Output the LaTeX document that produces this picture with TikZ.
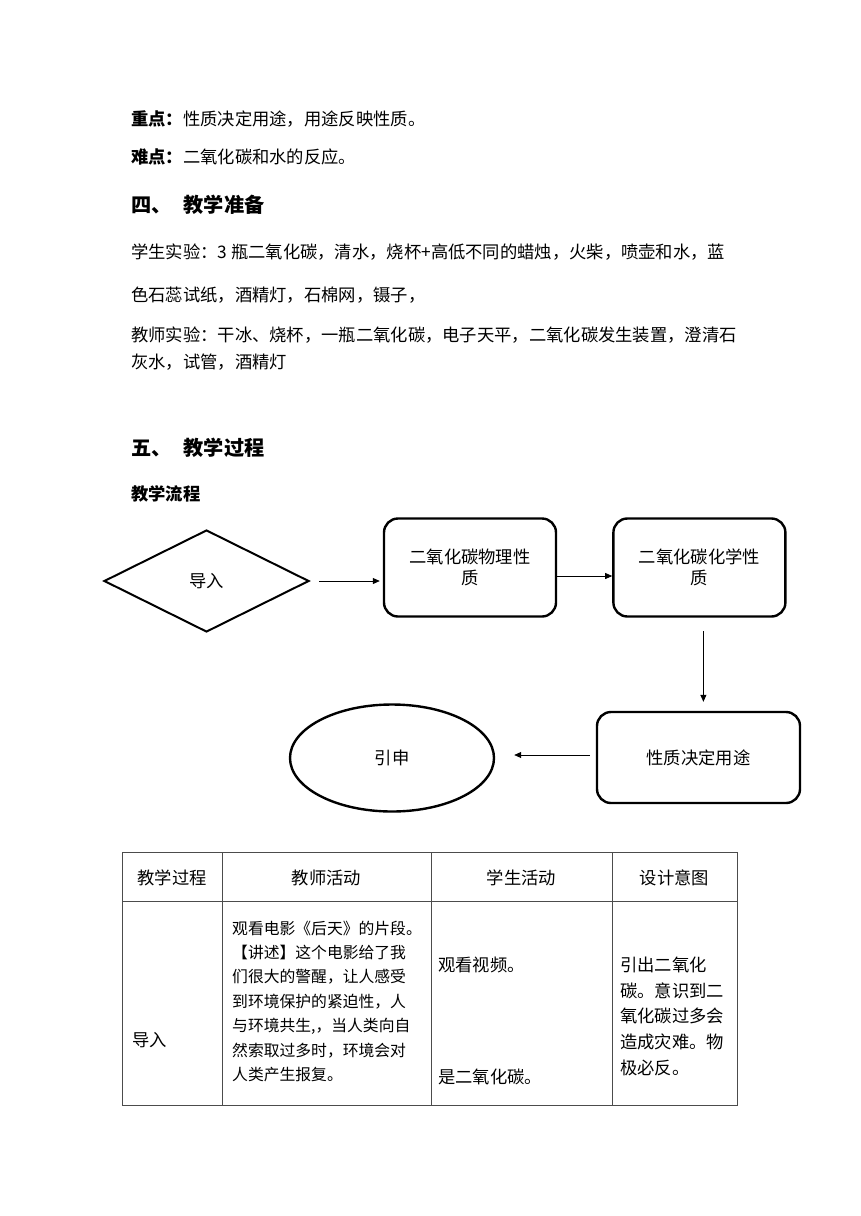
\documentclass[tikz,border=0pt]{standalone}
\usepackage{fontspec}
\setmainfont{Noto Sans CJK SC}
\usetikzlibrary{arrows.meta,positioning,shapes.geometric}

\begin{document}
\begin{tikzpicture}[
  x=1pt,
  y=-1pt,
  body/.style={font=\fontsize{17.3}{21}\selectfont, anchor=west, inner sep=0pt},
  heading/.style={font=\fontsize{20.2}{24}\selectfont\bfseries, anchor=west, inner sep=0pt},
  cell/.style={font=\fontsize{17.3}{21}\selectfont, inner sep=0pt},
  smallcell/.style={font=\fontsize{15.8}{19}\selectfont, anchor=west, inner sep=0pt},
  flowtext/.style={font=\fontsize{17.3}{21}\selectfont, align=center},
  flowbox/.style={flowtext, draw, line width=2.4pt, rounded corners=14pt, minimum width=172pt, minimum height=98pt},
  flowarrow/.style={draw, line width=0.8pt, -{Triangle[length=7pt,width=6pt]}},
  grid/.style={draw=black!70, line width=1pt}
]
\useasboundingbox (0,0) rectangle (860,1216);
\node[body] (keypt) at (131,119) {\textbf{重点：}性质决定用途，用途反映性质。};
\node[body] (hardpt) at (131,157) {\textbf{难点：}二氧化碳和水的反应。};
\node[heading] (sec4) at (131,205) {四、\hspace{12pt}教学准备};
\node[body] (stuexpa) at (131,252) {学生实验：3 瓶二氧化碳，清水，烧杯+高低不同的蜡烛，火柴，喷壶和水，蓝};
\node[body] (stuexpb) at (131,295) {色石蕊试纸，酒精灯，石棉网，镊子，};
\node[body] (teaexpa) at (131,335) {教师实验：干冰、烧杯，一瓶二氧化碳，电子天平，二氧化碳发生装置，澄清石};
\node[body] (teaexpb) at (131,362) {灰水，试管，酒精灯};
\node[heading] (sec5) at (131,448) {五、\hspace{12pt}教学过程};
\node[body, font=\fontsize{17.3}{21}\selectfont\bfseries] (flowtitle) at (131,494) {教学流程};

\node[flowtext, draw, shape=diamond, line width=2pt, minimum width=205pt, minimum height=102pt, inner sep=0pt] (intro) at (206.5,581) {导入};
\node[flowbox] (phys) at (470,567.5) {二氧化碳物理性\\质};
\node[flowbox, right=55pt of phys] (chem) {二氧化碳化学性\\质};
\node[flowbox, minimum width=203pt, minimum height=91pt] (use) at (698.5,757.5) {性质决定用途};
\node[flowtext, draw, shape=ellipse, line width=2.4pt, minimum width=204pt, minimum height=107pt] (lead) at (392,758) {引申};
\draw[flowarrow, shorten <=9pt, shorten >=3pt] (intro.east) -- (intro.east -| phys.west);
\draw[flowarrow] ([yshift=-8.5pt]phys.east) -- ([yshift=-8.5pt]chem.west);
\draw[flowarrow, shorten <=13.5pt, shorten >=9pt] ([xshift=4pt]chem.south) -- ([xshift=4pt]chem.south |- use.north);
\draw[flowarrow, shorten <=6pt, shorten >=19pt] ([yshift=2.5pt]use.west) -- ([yshift=2.5pt]use.west -| lead.east);

\draw[grid] (122,852) rectangle (737,1105);
\draw[grid] (122,901) -- (737,901);
\foreach \x in {222,431,612} {
  \draw[grid] (\x,852) -- (\x,1105);
}
\foreach \x/\lab/\nm in {172/教学过程/hstep, 326.5/教师活动/hteacher, 521.5/学生活动/hstudent, 674.5/设计意图/hintent} {
  \node[cell] (\nm) at (\x,878) {\lab};
}
\node[cell, anchor=west] (rowintro) at (132,1040) {导入};
\foreach \t [count=\i from 0] in {观看电影《后天》的片段。, 【讲述】这个电影给了我, 们很大的警醒，让人感受, 到环境保护的紧迫性，人, {与环境共生,，当人类向自}, 然索取过多时，环境会对, 人类产生报复。} {
  \node[smallcell] (teach\i) at (232,928+24.5*\i) {\t};
}
\node[cell, anchor=west] (stua) at (438,965) {观看视频。};
\node[cell, anchor=west] (stub) at (438,1077) {是二氧化碳。};
\foreach \t [count=\i from 0] in {引出二氧化, 碳。意识到二, 氧化碳过多会, 造成灾难。物, 极必反。} {
  \node[cell, anchor=west] (intent\i) at (620,965+25.7*\i) {\t};
}
\end{tikzpicture}
\end{document}
